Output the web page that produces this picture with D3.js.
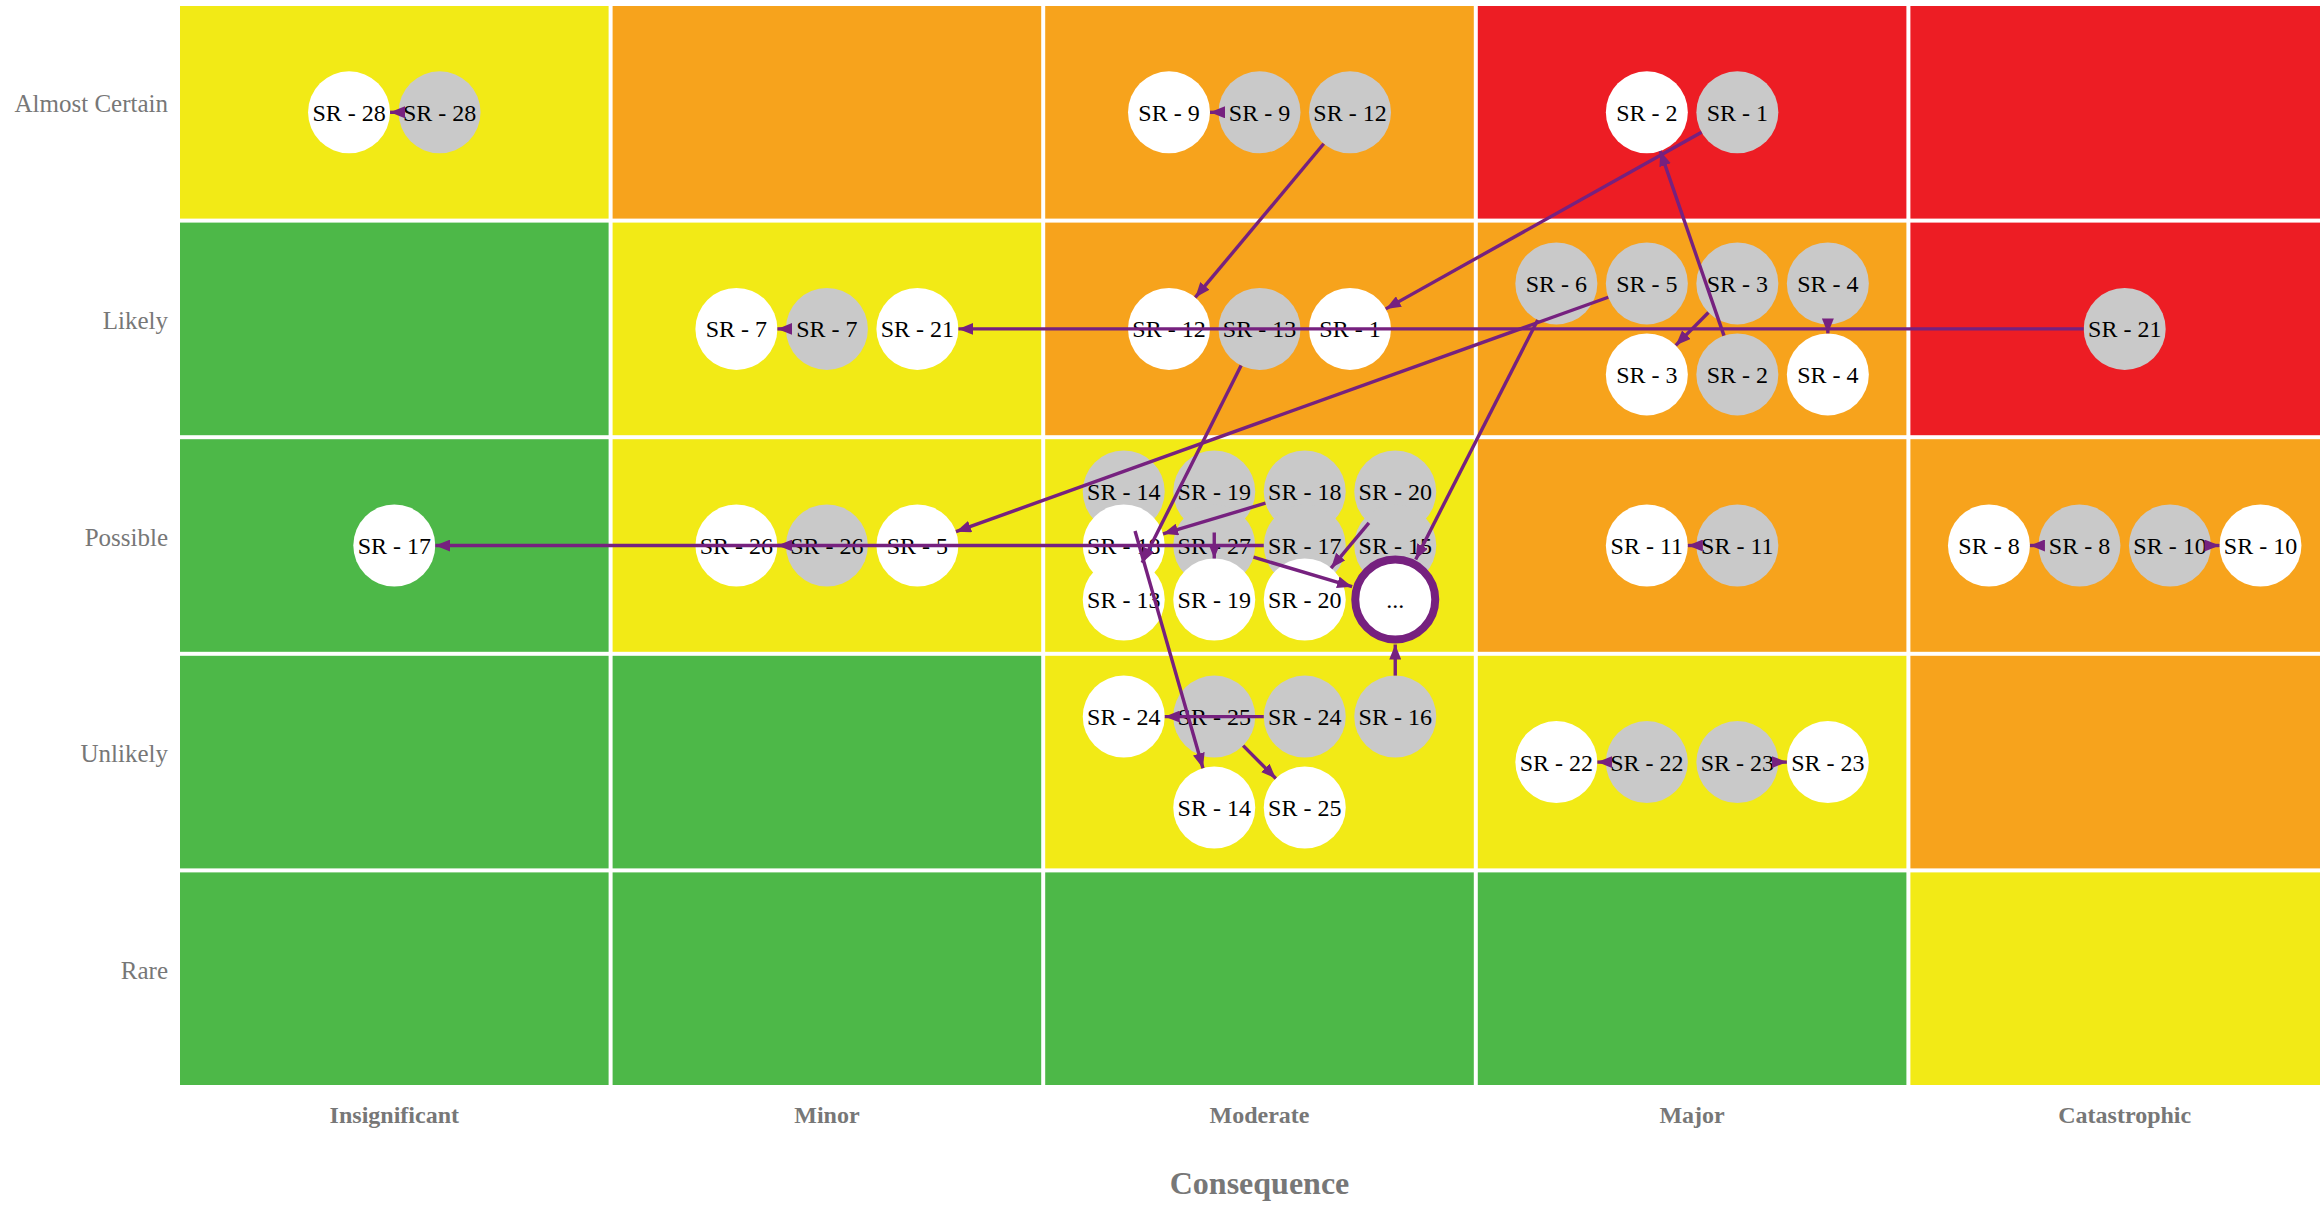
<!DOCTYPE html>
<html>
<head>
<meta charset="utf-8">
<script src="https://cdn.jsdelivr.net/npm/d3@7"></script>
<style>
  body { margin: 0; overflow: hidden; background: #fff; }
  svg { display: block; }
</style>
</head>
<body>
<svg id="chart"></svg>
<script>
// Axis categories
const likelihood = ["Almost Certain", "Likely", "Possible", "Unlikely", "Rare"];
const consequence = ["Insignificant", "Minor", "Moderate", "Major", "Catastrophic"];

// Rating of each cell, rows top to bottom, columns left to right
const ratings = [
  ["Medium", "High", "High", "Extreme", "Extreme"],
  ["Low", "Medium", "High", "High", "Extreme"],
  ["Low", "Medium", "Medium", "High", "High"],
  ["Low", "Low", "Medium", "Medium", "High"],
  ["Low", "Low", "Low", "Low", "Medium"]
];
const ratingNames = ["Low", "Medium", "High", "Extreme"];
const ratingColors = ["#4db848", "#f2ea16", "#f7a31c", "#ed1d24"];

// Risks: [id, label, state, likelihood, consequence, slot col, slot row]
// state: before = grey, after = white, more = collapsed group
const risks = [
  ["a28", "SR - 28", "after", "Almost Certain", "Insignificant", 0, 0],
  ["b28", "SR - 28", "before", "Almost Certain", "Insignificant", 1, 0],
  ["a9", "SR - 9", "after", "Almost Certain", "Moderate", 0, 0],
  ["b9", "SR - 9", "before", "Almost Certain", "Moderate", 1, 0],
  ["b12", "SR - 12", "before", "Almost Certain", "Moderate", 2, 0],
  ["a2", "SR - 2", "after", "Almost Certain", "Major", 0, 0],
  ["b1", "SR - 1", "before", "Almost Certain", "Major", 1, 0],
  ["a7", "SR - 7", "after", "Likely", "Minor", 0, 0],
  ["b7", "SR - 7", "before", "Likely", "Minor", 1, 0],
  ["a21", "SR - 21", "after", "Likely", "Minor", 2, 0],
  ["a12", "SR - 12", "after", "Likely", "Moderate", 0, 0],
  ["b13", "SR - 13", "before", "Likely", "Moderate", 1, 0],
  ["a1", "SR - 1", "after", "Likely", "Moderate", 2, 0],
  ["b6", "SR - 6", "before", "Likely", "Major", 0, 0],
  ["b5", "SR - 5", "before", "Likely", "Major", 1, 0],
  ["b3", "SR - 3", "before", "Likely", "Major", 2, 0],
  ["b4", "SR - 4", "before", "Likely", "Major", 3, 0],
  ["a3", "SR - 3", "after", "Likely", "Major", 1, 1],
  ["b2", "SR - 2", "before", "Likely", "Major", 2, 1],
  ["a4", "SR - 4", "after", "Likely", "Major", 3, 1],
  ["b21", "SR - 21", "before", "Likely", "Catastrophic", 0, 0],
  ["a17", "SR - 17", "after", "Possible", "Insignificant", 0, 0],
  ["a26", "SR - 26", "after", "Possible", "Minor", 0, 0],
  ["b26", "SR - 26", "before", "Possible", "Minor", 1, 0],
  ["a5", "SR - 5", "after", "Possible", "Minor", 2, 0],
  ["b14", "SR - 14", "before", "Possible", "Moderate", 0, 0],
  ["b19", "SR - 19", "before", "Possible", "Moderate", 1, 0],
  ["b18", "SR - 18", "before", "Possible", "Moderate", 2, 0],
  ["b20", "SR - 20", "before", "Possible", "Moderate", 3, 0],
  ["a18", "SR - 18", "after", "Possible", "Moderate", 0, 1],
  ["b27", "SR - 27", "before", "Possible", "Moderate", 1, 1],
  ["b17", "SR - 17", "before", "Possible", "Moderate", 2, 1],
  ["b15", "SR - 15", "before", "Possible", "Moderate", 3, 1],
  ["a13", "SR - 13", "after", "Possible", "Moderate", 0, 2],
  ["a19", "SR - 19", "after", "Possible", "Moderate", 1, 2],
  ["a20", "SR - 20", "after", "Possible", "Moderate", 2, 2],
  ["more", "...", "more", "Possible", "Moderate", 3, 2],
  ["a11", "SR - 11", "after", "Possible", "Major", 0, 0],
  ["b11", "SR - 11", "before", "Possible", "Major", 1, 0],
  ["a8", "SR - 8", "after", "Possible", "Catastrophic", 0, 0],
  ["b8", "SR - 8", "before", "Possible", "Catastrophic", 1, 0],
  ["b10", "SR - 10", "before", "Possible", "Catastrophic", 2, 0],
  ["a10", "SR - 10", "after", "Possible", "Catastrophic", 3, 0],
  ["a24", "SR - 24", "after", "Unlikely", "Moderate", 0, 0],
  ["b25", "SR - 25", "before", "Unlikely", "Moderate", 1, 0],
  ["b24", "SR - 24", "before", "Unlikely", "Moderate", 2, 0],
  ["b16", "SR - 16", "before", "Unlikely", "Moderate", 3, 0],
  ["a14", "SR - 14", "after", "Unlikely", "Moderate", 1, 1],
  ["a25", "SR - 25", "after", "Unlikely", "Moderate", 2, 1],
  ["a22", "SR - 22", "after", "Unlikely", "Major", 0, 0],
  ["b22", "SR - 22", "before", "Unlikely", "Major", 1, 0],
  ["b23", "SR - 23", "before", "Unlikely", "Major", 2, 0],
  ["a23", "SR - 23", "after", "Unlikely", "Major", 3, 0]
];

// Movements from inherent to residual position
const moves = [
  ["b28", "a28"], ["b9", "a9"], ["b12", "a12"], ["b1", "a1"], ["b2", "a2"],
  ["b3", "a3"], ["b4", "a4"], ["b5", "a5"], ["b6", "more"], ["b21", "a21"],
  ["b7", "a7"], ["b13", "a13"], ["b14", "a14"], ["b19", "a19"], ["b18", "a18"],
  ["b20", "a20"], ["b17", "a17"], ["b27", "more"], ["b15", "more"], ["b16", "more"],
  ["b26", "a26"], ["b11", "a11"], ["b8", "a8"], ["b10", "a10"], ["b24", "a24"],
  ["b25", "a25"], ["b22", "a22"], ["b23", "a23"]
];

// Set up dimensions
const width = 2320;
const height = 1205;
const purple = "#76217f";
const serif = "'Liberation Serif', 'Times New Roman', serif";

const svg = d3.select("#chart")
  .attr("width", width)
  .attr("height", height);

const x = d3.scaleBand().domain(consequence).range([178, 2341]);
const y = d3.scaleBand().domain(likelihood).range([4, 1087]);
const color = d3.scaleOrdinal().domain(ratingNames).range(ratingColors);

// Cells
const cells = [];
likelihood.forEach((l, i) => consequence.forEach((c, j) => cells.push({ l, c, rating: ratings[i][j] })));

svg.append("g").selectAll("rect")
  .data(cells)
  .enter()
  .append("rect")
  .attr("x", d => x(d.c) + 2)
  .attr("y", d => y(d.l) + 2)
  .attr("width", x.bandwidth() - 4)
  .attr("height", y.bandwidth() - 4)
  .attr("fill", d => color(d.rating));

// Axis labels
svg.append("g").selectAll("text")
  .data(likelihood)
  .enter()
  .append("text")
  .attr("x", 168)
  .attr("y", d => y(d) + y.bandwidth() / 2)
  .attr("text-anchor", "end")
  .style("font-family", serif)
  .style("font-size", "25px")
  .style("fill", "#777")
  .text(d => d);

svg.append("g").selectAll("text")
  .data(consequence)
  .enter()
  .append("text")
  .attr("x", d => x(d) + x.bandwidth() / 2)
  .attr("y", 1123)
  .attr("text-anchor", "middle")
  .style("font-family", serif)
  .style("font-size", "24px")
  .style("font-weight", "bold")
  .style("fill", "#777")
  .text(d => d);

svg.append("text")
  .attr("x", (x.range()[0] + x.range()[1]) / 2)
  .attr("y", 1194)
  .attr("text-anchor", "middle")
  .style("font-family", serif)
  .style("font-size", "32px")
  .style("font-weight", "bold")
  .style("fill", "#777")
  .text("Consequence");

// Node layout: slots centred in their cell
const nodes = risks.map(([id, label, state, l, c, col, row]) => ({ id, label, state, l, c, col, row }));
const byCell = d3.group(nodes, d => d.l + "|" + d.c);
const colGap = 90.5;
byCell.forEach(list => {
  const nCols = d3.max(list, d => d.col) + 1;
  const nRows = d3.max(list, d => d.row) + 1;
  const rowGap = nRows > 2 ? 54 : 91;
  list.forEach(d => {
    d.x = x(d.c) + x.bandwidth() / 2 + (d.col - (nCols - 1) / 2) * colGap;
    d.y = y(d.l) + y.bandwidth() / 2 + (d.row - (nRows - 1) / 2) * rowGap;
    d.r = d.state === "more" ? 45 : 41;
  });
});
const nodeById = new Map(nodes.map(d => [d.id, d]));

const node = svg.append("g").selectAll("g")
  .data(nodes)
  .enter()
  .append("g")
  .attr("transform", d => `translate(${d.x},${d.y})`);

node.append("circle")
  .attr("r", d => d.state === "more" ? 40 : 41)
  .attr("fill", d => d.state === "before" ? "#c9c9c9" : "#ffffff")
  .attr("stroke", d => d.state === "more" ? purple : "none")
  .attr("stroke-width", 8);

node.append("text")
  .attr("text-anchor", "middle")
  .attr("dy", "0.35em")
  .style("font-family", serif)
  .style("font-size", "24px")
  .style("fill", "#000")
  .text(d => d.label);

// Arrow marker
svg.append("defs").append("marker")
  .attr("id", "arrow")
  .attr("viewBox", "0 -6 15 12")
  .attr("refX", 15)
  .attr("refY", 0)
  .attr("markerWidth", 15)
  .attr("markerHeight", 12)
  .attr("markerUnits", "userSpaceOnUse")
  .attr("orient", "auto")
  .append("path")
  .attr("d", "M0,-6L15,0L0,6Z")
  .attr("fill", purple);

// Links, trimmed to the circle edges
const links = moves.map(([s, t]) => {
  const a = nodeById.get(s), b = nodeById.get(t);
  const dx = b.x - a.x, dy = b.y - a.y;
  const len = Math.sqrt(dx * dx + dy * dy);
  return {
    len, ok: len > a.r + b.r - 10,
    x1: a.x + dx / len * a.r, y1: a.y + dy / len * a.r,
    x2: b.x - dx / len * b.r, y2: b.y - dy / len * b.r
  };
}).filter(d => d.ok);

svg.append("g").selectAll("line")
  .data(links)
  .enter()
  .append("line")
  .attr("x1", d => d.x1)
  .attr("y1", d => d.y1)
  .attr("x2", d => d.x2)
  .attr("y2", d => d.y2)
  .attr("stroke", purple)
  .attr("stroke-width", 3.4)
  .attr("marker-end", "url(#arrow)");
</script>
</body>
</html>
